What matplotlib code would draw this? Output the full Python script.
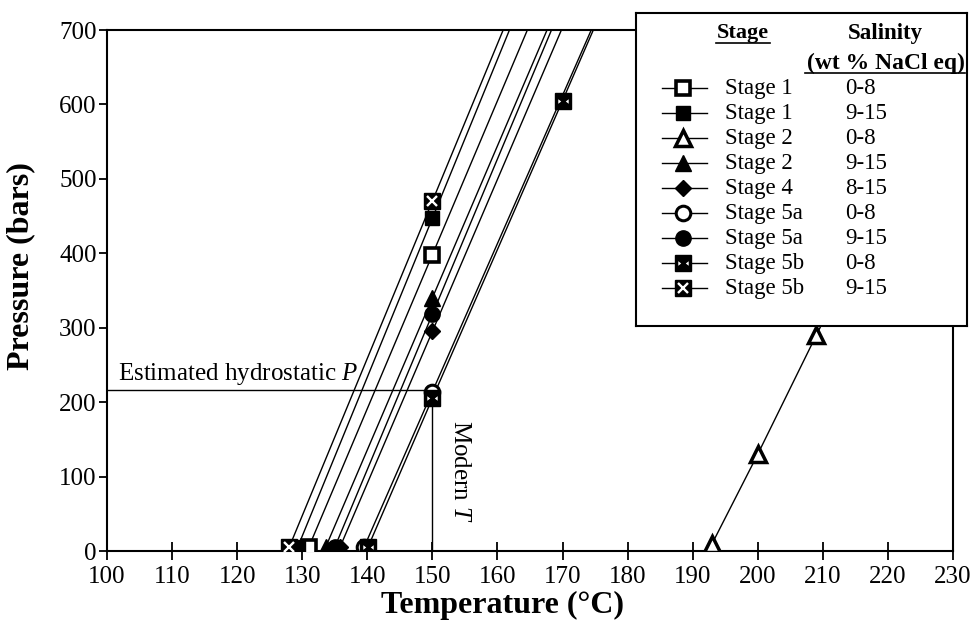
import numpy as np
import matplotlib
matplotlib.use("Agg")
import matplotlib.pyplot as plt
from matplotlib.path import Path

plt.rcParams['font.family'] = ['Liberation Serif', 'DejaVu Serif']
plt.rcParams['mathtext.fontset'] = 'custom'
plt.rcParams['mathtext.rm'] = 'Liberation Serif'
plt.rcParams['mathtext.it'] = 'Liberation Serif:italic'
plt.rcParams['mathtext.bf'] = 'Liberation Serif:bold'

# fluid inclusion isochores, legend order
stage_labels = ["Stage 1", "Stage 1", "Stage 2", "Stage 2", "Stage 4",
                "Stage 5a", "Stage 5a", "Stage 5b", "Stage 5b"]
salinity_labels = ["0-8", "9-15", "0-8", "9-15", "8-15",
                   "0-8", "9-15", "0-8", "9-15"]
temps = [
    [131.0, 150],
    [129.3, 150],
    [193, 200, 209],
    [133.6, 150],
    [135.8, 150],
    [139.5, 150],
    [135.0, 150],
    [140.1, 150, 170],
    [128.0, 150],
]
pressures = [
    [5, 398],
    [5, 447],
    [10, 130, 290],
    [5, 340],
    [5, 295],
    [5, 214],
    [5, 318],
    [5, 205, 605],
    [5, 470],
]
hydro_p = 216
modern_t = 150
p_top = 700

# white marks drawn on top of the black squares of stage 5b
bowtie = Path([(-0.8, -0.35), (-0.8, 0.35), (-0.35, 0), (-0.8, -0.35),
               (0.8, -0.35), (0.8, 0.35), (0.35, 0), (0.8, -0.35)],
              [Path.MOVETO, Path.LINETO, Path.LINETO, Path.CLOSEPOLY,
               Path.MOVETO, Path.LINETO, Path.LINETO, Path.CLOSEPOLY])

styles = [
    dict(marker='s', ms=10, mfc='white', mec='black', mew=2.6),
    dict(marker='s', ms=10.5, mfc='black', mec='black', mew=1),
    dict(marker='^', ms=11, mfc='white', mec='black', mew=2.5),
    dict(marker='^', ms=11.5, mfc='black', mec='black', mew=1),
    dict(marker='D', ms=8.5, mfc='black', mec='black', mew=1),
    dict(marker='o', ms=10.5, mfc='white', mec='black', mew=2.2),
    dict(marker='o', ms=11, mfc='black', mec='black', mew=1),
    dict(marker='s', ms=11, mfc='black', mec='black', mew=1),
    dict(marker='s', ms=11, mfc='black', mec='black', mew=1),
]
overlays = [None] * 7 + [
    dict(marker=bowtie, ms=7.5, mfc='white', mec='white', mew=0),
    dict(marker='x', ms=6.5, mfc='white', mec='white', mew=1.7),
]

fig = plt.figure(figsize=(9.76, 6.29), dpi=100)
ax = fig.add_axes([0.1096, 0.1240, 0.8668, 0.8283])

for t, p, st, ov in zip(temps, pressures, styles, overlays):
    t = np.array(t, float)
    p = np.array(p, float)
    slope = (p[-1] - p[0]) / (t[-1] - t[0])
    t_end = t[-1] + (p_top - p[-1]) / slope
    ax.plot(np.append(t, t_end), np.append(p, p_top), color='black', lw=1.0, zorder=2)
    ax.plot(t, p, ls='none', zorder=3, **st)
    if ov is not None:
        ax.plot(t, p, ls='none', zorder=4, **ov)

ax.plot([100, modern_t], [hydro_p, hydro_p], color='black', lw=1.0, zorder=1)
ax.plot([modern_t, modern_t], [0, hydro_p], color='black', lw=1.0, zorder=1)
ax.text(101.7, 230, "Estimated hydrostatic $P$", fontsize=18, va='baseline', ha='left')
ax.text(154.2, 107, "Modern $T$", fontsize=18, rotation=-90, ha='center', va='center')

ax.set_xlim(100, 230)
ax.set_ylim(0, 700)
ax.set_xticks(np.arange(100, 231, 10))
ax.set_yticks(np.arange(0, 701, 100))
ax.tick_params(axis='x', direction='inout', length=13, width=1.3, labelsize=18, pad=4)
ax.tick_params(axis='y', direction='out', length=6, width=1.3, labelsize=18, pad=1.5)
for s in ax.spines.values():
    s.set_linewidth(1.5)

ax.set_xlabel("Temperature (°C)", fontsize=23, fontweight='bold')
ax.set_ylabel("Pressure (bars)", fontsize=23, fontweight='bold')
ax.xaxis.set_label_coords(0.468, -0.076)
ax.yaxis.set_label_coords(-0.085, 0.547)

# legend box drawn as a small axes of its own
lax = fig.add_axes([0.6516, 0.4817, 0.3391, 0.4976])
lax.set_xlim(0, 1)
lax.set_ylim(0, 1)
lax.set_xticks([])
lax.set_yticks([])
lax.set_facecolor('white')
for s in lax.spines.values():
    s.set_linewidth(1.5)

lax.text(0.323, 0.936, "Stage", fontsize=16, fontweight='bold', ha='center', va='center')
lax.plot([0.242, 0.405], [0.905, 0.905], color='black', lw=1.2)
lax.text(0.754, 0.936, "Salinity", fontsize=16.5, fontweight='bold', ha='center', va='center')
lax.text(0.754, 0.84, "(wt % NaCl eq)", fontsize=17, fontweight='bold', ha='center', va='center')
lax.plot([0.512, 0.994], [0.808, 0.808], color='black', lw=1.2)

row_y = 0.7604
for stage, sal, st, ov in zip(stage_labels, salinity_labels, styles, overlays):
    lax.plot([0.0785, 0.2145], [row_y, row_y], color='black', lw=1.0)
    lax.plot([0.142], [row_y], ls='none', **st)
    if ov is not None:
        lax.plot([0.142], [row_y], ls='none', **ov)
    lax.text(0.2689, row_y, stage, fontsize=16.5, ha='left', va='center')
    lax.text(0.6314, row_y, sal, fontsize=16.5, ha='left', va='center')
    row_y -= 0.0799

fig.savefig("out.png", dpi=100)
